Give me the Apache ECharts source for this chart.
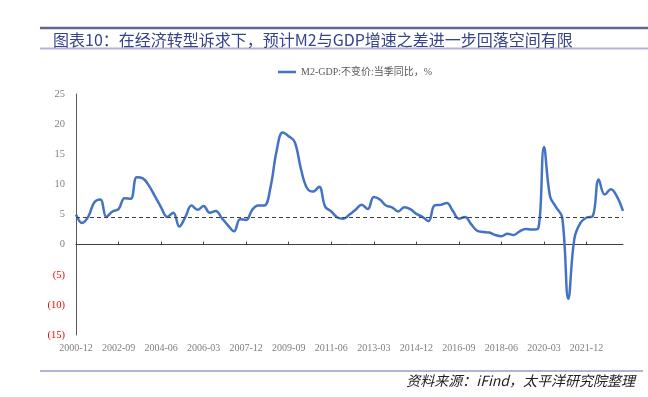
<!DOCTYPE html>
<html>
<head>
<meta charset="utf-8">
<script src="https://cdn.jsdelivr.net/npm/echarts@6/dist/echarts.min.js"></script>
<style>
html,body{margin:0;padding:0;background:#fff;}
#chart{width:648px;height:397px;}
</style>
</head>
<body>
<div id="chart"></div>
<script>
// 季度：2000-12 ~ 2023-06
var months = ['03', '06', '09', '12'];
var quarters = [];
for (var y = 2000; y <= 2023; y++) {
    for (var q = 0; q < 4; q++) {
        var lbl = y + '-' + months[q];
        if (lbl >= '2000-12' && lbl <= '2023-06') quarters.push(lbl);
    }
}

// M2-GDP:不变价:当季同比，%
var m2GdpGap = [
    5.0, 3.6, 4.6, 7.0, 7.5, 4.6, 5.5, 5.9, 7.7, 7.6,
    11.2, 11.0, 9.8, 8.0, 6.2, 4.6, 5.3, 3.0, 4.6, 6.5,
    5.8, 6.4, 5.3, 5.6, 4.4, 3.2, 2.2, 4.2, 4.1, 5.8,
    6.5, 6.5, 9.5, 15.5, 18.6, 18.0, 17.0, 12.6, 9.4, 8.8,
    9.6, 6.3, 5.5, 4.5, 4.3, 5.0, 5.8, 6.6, 5.9, 7.9,
    7.5, 6.5, 6.2, 5.5, 6.2, 5.9, 5.1, 4.6, 3.9, 6.5,
    6.6, 6.9, 5.6, 4.3, 4.6, 3.4, 2.3, 2.1, 2.0, 1.6,
    1.4, 1.8, 1.6, 2.2, 2.6, 2.5, 2.6, 16.2, 8.0, 6.2,
    4.5, -9.0, 1.0, 3.6, 4.5, 4.7, 10.8, 8.3, 9.2, 8.0,
    5.6
];

// 虚线参考值
var refLevel = 4.5;

var titleText = '图表10：在经济转型诉求下，预计M2与GDP增速之差进一步回落空间有限';
var sourceText = '资料来源：iFind，太平洋研究院整理';
var seriesName = 'M2-GDP:不变价:当季同比，%';

var serif = '"Liberation Serif", "Times New Roman", "Noto Sans CJK SC", serif';

var myChart = echarts.init(document.getElementById('chart'));
var option = {
    backgroundColor: '#fff',
    animation: false,
    title: {
        text: titleText,
        left: 48,
        top: 27,
        textStyle: {
            fontFamily: '"Noto Sans CJK SC", sans-serif',
            fontSize: 16,
            fontWeight: 'normal',
            color: '#36448a'
        }
    },
    graphic: [
        {type: 'line', shape: {x1: 40, y1: 28, x2: 648, y2: 28}, style: {stroke: '#61648f', lineWidth: 2.5}},
        {type: 'line', shape: {x1: 40, y1: 48.5, x2: 648, y2: 48.5}, style: {stroke: '#b1b4d6', lineWidth: 2}},
        {type: 'line', shape: {x1: 40, y1: 371, x2: 643, y2: 371}, style: {stroke: '#b1b4d6', lineWidth: 2}},
        {
            type: 'text', right: 13, top: 374,
            style: {
                text: sourceText,
                fontFamily: '"Noto Sans CJK SC", sans-serif',
                fontSize: 14,
                fontStyle: 'italic',
                fill: '#222'
            }
        }
    ],
    legend: {
        left: 273,
        top: 62,
        icon: 'rect',
        itemWidth: 18,
        itemHeight: 2.5,
        textStyle: {fontFamily: serif, fontSize: 10, color: '#595959'},
        data: [seriesName]
    },
    grid: {left: 76, right: 25, top: 94, bottom: 62, containLabel: false, outerBoundsMode: 'none'},
    xAxis: {
        type: 'category',
        data: quarters,
        boundaryGap: false,
        axisLine: {onZero: true, lineStyle: {color: '#404040', width: 1}},
        axisTick: {show: true, inside: true, length: 3, interval: 6, lineStyle: {color: '#404040'}},
        axisLabel: {
            interval: 6,
            margin: 8,
            fontFamily: serif,
            fontSize: 10,
            color: '#808080'
        },
        splitLine: {show: false}
    },
    yAxis: {
        type: 'value',
        min: -15,
        max: 25,
        interval: 5,
        axisLine: {show: true, lineStyle: {color: '#595959', width: 1}},
        axisTick: {show: false},
        splitLine: {show: false},
        axisLabel: {
            margin: 11,
            fontFamily: serif,
            fontSize: 10.5,
            formatter: function (v) {
                return v < 0 ? '{neg|(' + (-v) + ')}' : '{pos|' + v + '}';
            },
            rich: {
                pos: {color: '#808080', fontFamily: serif, fontSize: 10.5},
                neg: {color: '#ff0000', fontFamily: serif, fontSize: 10.5}
            }
        }
    },
    series: [{
        name: seriesName,
        type: 'line',
        data: m2GdpGap,
        smooth: 0.4,
        showSymbol: false,
        lineStyle: {color: '#4472c4', width: 2.5},
        itemStyle: {color: '#4472c4'},
        markLine: {
            silent: true,
            symbol: 'none',
            label: {show: false},
            lineStyle: {color: '#404040', type: [4, 3], width: 1},
            data: [{yAxis: refLevel}]
        }
    }]
};
myChart.setOption(option);
</script>
</body>
</html>
